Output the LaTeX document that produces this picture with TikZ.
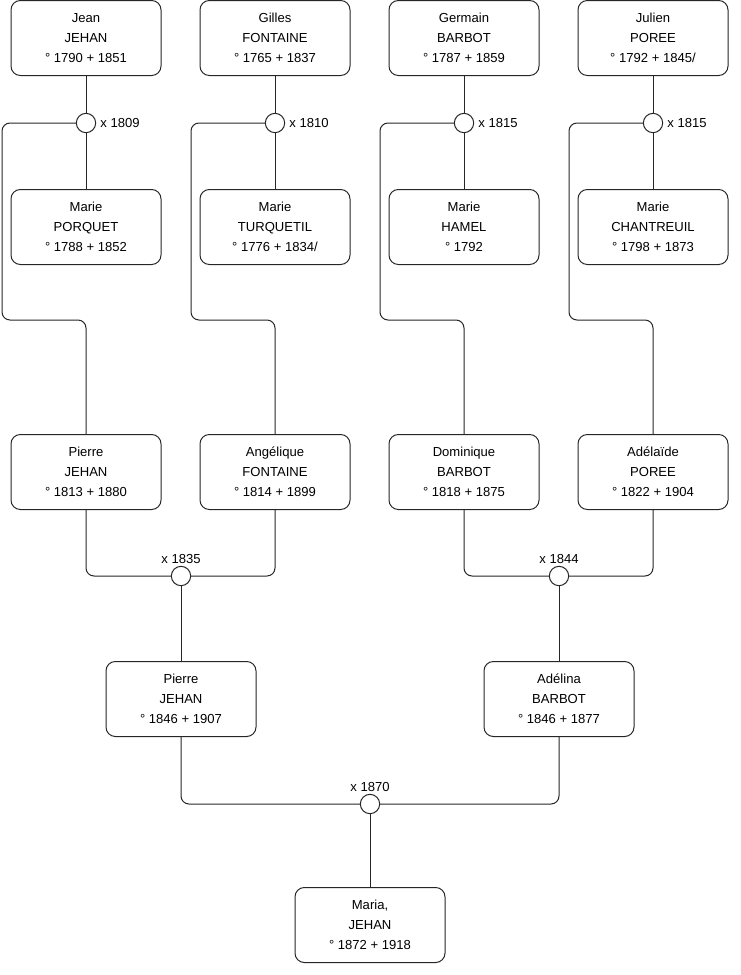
\documentclass[tikz,border=0pt]{standalone}
\usepackage{fontspec}
\setmainfont{Liberation Sans}
\usetikzlibrary{positioning}
\tikzset{
  every node/.style={font=\fontsize{9.8}{15}\selectfont, text=black},
  person/.style={draw=black!85, line width=0.75pt, rounded corners=7pt, fill=white,
    minimum width=112.5pt, minimum height=56.25pt, align=center, inner sep=0pt},
  union/.style={draw=black!85, line width=0.75pt, circle, fill=white,
    minimum size=14.5pt, inner sep=0pt},
  link/.style={draw=black!85, line width=0.75pt, rounded corners=6pt},
}
\begin{document}
\begin{tikzpicture}[x=0.75pt, y=-0.75pt]
  \useasboundingbox (0,0) rectangle (740,975);
  % Great-grandparents, husbands
  \foreach \nm/\x/\txt in {jean/86/{Jean\\JEHAN\\° 1790 + 1851},
      gilles/275/{Gilles\\FONTAINE\\° 1765 + 1837},
      germain/464/{Germain\\BARBOT\\° 1787 + 1859},
      julien/653/{Julien\\POREE\\° 1792 + 1845/}}
    \node[person] (\nm) at (\x,38) {\txt};
  % Great-grandparents, wives
  \foreach \nm/\x/\txt in {porquet/86/{Marie\\PORQUET\\° 1788 + 1852},
      turquetil/275/{Marie\\TURQUETIL\\° 1776 + 1834/},
      hamel/464/{Marie\\HAMEL\\° 1792},
      chantreuil/653/{Marie\\CHANTREUIL\\° 1798 + 1873}}
    \node[person] (\nm) at (\x,227) {\txt};
  % Marriages of the first generation
  \foreach \nm/\x/\yr in {ua/86/1809, ub/275/1810, uc/464/1815, ud/653/1815}
    \node[union, label={[inner sep=3pt]right:x \yr}] (\nm) at (\x,123) {};
  % Grandparents
  \node[person] (pierreA) at (86,472) {Pierre\\JEHAN\\° 1813 + 1880};
  \node[person] (angelique) at (275,472) {Angélique\\FONTAINE\\° 1814 + 1899};
  \node[person] (dominique) at (464,472) {Dominique\\BARBOT\\° 1818 + 1875};
  \node[person] (adelaide) at (653,472) {Adélaïde\\POREE\\° 1822 + 1904};
  \node[union, label={[inner sep=1.5pt]above:x 1835}] (ue) at (181,576) {};
  \node[union, label={[inner sep=1.5pt]above:x 1844}] (uf) at (559,576) {};
  % Parents
  \node[person] (pierreB) at (181,699) {Pierre\\JEHAN\\° 1846 + 1907};
  \node[person] (adelina) at (559,699) {Adélina\\BARBOT\\° 1846 + 1877};
  \node[union, label={[inner sep=1.5pt]above:x 1870}] (ug) at (370,804) {};
  % Child
  \node[person] (maria) at (370,925) {Maria,\\JEHAN\\° 1872 + 1918};
  % Connectors, top rows
  \foreach \hb/\u/\w in {jean/ua/porquet, gilles/ub/turquetil, germain/uc/hamel, julien/ud/chantreuil} {
    \draw[link] (\hb) -- (\u);
    \draw[link] (\u) -- (\w);
  }
  \draw[link] (ua.west) -| (2,320) -| (pierreA.north);
  \draw[link] (ub.west) -| (191,320) -| (angelique.north);
  \draw[link] (uc.west) -| (380,320) -| (dominique.north);
  \draw[link] (ud.west) -| (569,320) -| (adelaide.north);
  % Connectors, lower rows
  \draw[link] (pierreA.south) |- (ue.west);
  \draw[link] (angelique.south) |- (ue.east);
  \draw[link] (dominique.south) |- (uf.west);
  \draw[link] (adelaide.south) |- (uf.east);
  \draw[link] (ue) -- (pierreB);
  \draw[link] (uf) -- (adelina);
  \draw[link] (pierreB.south) |- (ug.west);
  \draw[link] (adelina.south) |- (ug.east);
  \draw[link] (ug) -- (maria);
\end{tikzpicture}
\end{document}
